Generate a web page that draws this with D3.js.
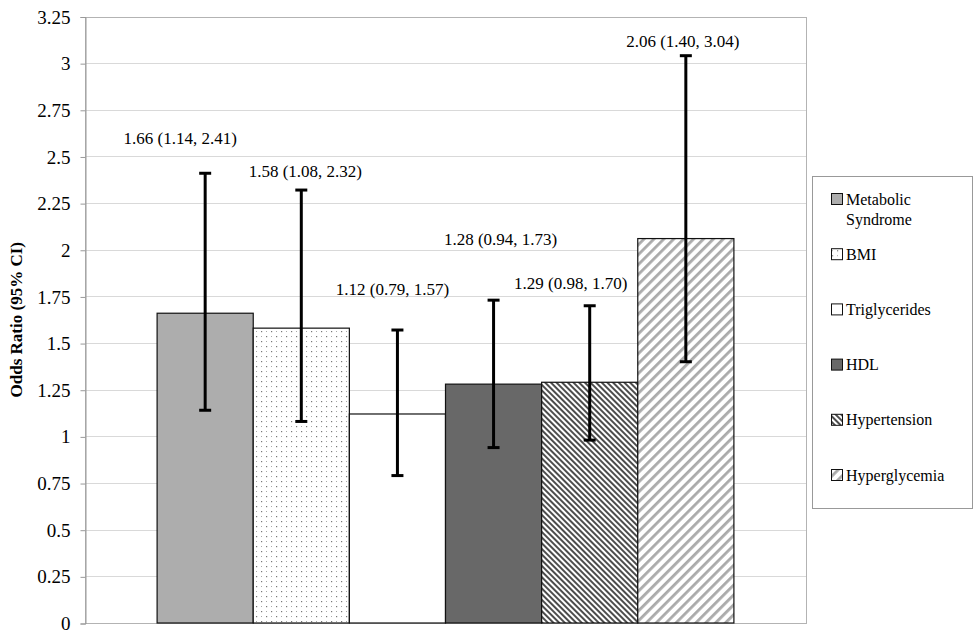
<!DOCTYPE html>
<html>
<head>
<meta charset="utf-8">
<script src="https://cdn.jsdelivr.net/npm/d3@7"></script>
<style>
  body { margin: 0; background: #fff; }
  svg text { font-family: "Liberation Serif", "Times New Roman", serif !important; fill: #000; }
</style>
</head>
<body>
<script>
// odds ratios with 95% CI, one bar per risk factor
var factors = ["Metabolic Syndrome", "BMI", "Triglycerides", "HDL", "Hypertension", "Hyperglycemia"];
var oddsRatio = [1.66, 1.58, 1.12, 1.28, 1.29, 2.06];
var ciLow = [1.14, 1.08, 0.79, 0.94, 0.98, 1.40];
var ciHigh = [2.41, 2.32, 1.57, 1.73, 1.70, 3.04];
// where the annotation sits (in odds ratio units), as in the original
var labelAt = [2.60, 2.42, 1.79, 2.06, 1.82, 3.12];
var yTicks = [0, 0.25, 0.5, 0.75, 1, 1.25, 1.5, 1.75, 2, 2.25, 2.5, 2.75, 3, 3.25];

var labelShift = [-25, 4, -5, 7, -19, -3];
var fills = ["#adadad", "url(#dots)", "#ffffff", "#686868", "url(#denseDiag)", "url(#wideDiag)"];

var width = 976, height = 637;
var plot = {left: 85, right: 806, top: 16.5, bottom: 623};

var svg = d3.select("body").append("svg")
    .attr("width", width)
    .attr("height", height)
    .attr("font-family", "Liberation Serif, serif");

// patterns
var defs = svg.append("defs");

var dots = defs.append("pattern").attr("id", "dots")
    .attr("patternUnits", "userSpaceOnUse").attr("width", 10).attr("height", 10);
dots.append("rect").attr("width", 10).attr("height", 10).attr("fill", "#fff");
dots.append("rect").attr("x", 1).attr("y", 1).attr("width", 1.2).attr("height", 1.2).attr("fill", "#777");
dots.append("rect").attr("x", 6).attr("y", 6).attr("width", 1.2).attr("height", 1.2).attr("fill", "#777");
dots.append("rect").attr("x", 1).attr("y", 6).attr("width", 1).attr("height", 1).attr("fill", "#aaa");
dots.append("rect").attr("x", 6).attr("y", 1).attr("width", 1).attr("height", 1).attr("fill", "#aaa");

// "\\\" dense dark hatching
var dense = defs.append("pattern").attr("id", "denseDiag")
    .attr("patternUnits", "userSpaceOnUse").attr("width", 4).attr("height", 4)
    .attr("patternTransform", "rotate(45)");
dense.append("rect").attr("width", 4).attr("height", 4).attr("fill", "#fff");
dense.append("rect").attr("width", 4).attr("height", 2).attr("fill", "#4d4d4d");

// "///" wide light hatching
var wide = defs.append("pattern").attr("id", "wideDiag")
    .attr("patternUnits", "userSpaceOnUse").attr("width", 7).attr("height", 7)
    .attr("patternTransform", "rotate(-45)");
wide.append("rect").attr("width", 7).attr("height", 7).attr("fill", "#fff");
wide.append("rect").attr("width", 7).attr("height", 2.8).attr("fill", "#aaaaaa");

var y = d3.scaleLinear().domain([0, 3.25]).range([plot.bottom, plot.top]);
var x = d3.scaleBand().domain(factors).range([plot.left, plot.right])
    .paddingInner(0).paddingOuter(0.75);

// gridlines
svg.append("g").selectAll("line")
    .data(yTicks.filter(function(d) { return d > 0 && d < 3.25; }))
    .join("line")
      .attr("x1", plot.left).attr("x2", plot.right)
      .attr("y1", function(d) { return Math.round(y(d)) + 0.5; })
      .attr("y2", function(d) { return Math.round(y(d)) + 0.5; })
      .attr("stroke", "#d9d9d9");

// plot frame
svg.append("rect")
    .attr("x", plot.left + 0.5).attr("y", Math.round(plot.top) + 0.5)
    .attr("width", plot.right - plot.left).attr("height", plot.bottom - Math.round(plot.top))
    .attr("fill", "none").attr("stroke", "#b3b3b3");

// y axis
var yAxis = d3.axisLeft(y).tickValues(yTicks).tickSize(5).tickPadding(10)
    .tickFormat(function(d) { return String(d); });
var ga = svg.append("g").attr("transform", "translate(" + (plot.left + 0.5) + ",0.5)").call(yAxis);
ga.attr("font-family", "Liberation Serif, serif").attr("font-size", 19);
ga.select(".domain").attr("stroke", "#999");
ga.selectAll(".tick line").attr("stroke", "#999");
ga.selectAll(".tick text").attr("fill", "#000");

svg.append("text")
    .attr("transform", "translate(22," + ((plot.top + plot.bottom) / 2) + ") rotate(-90)")
    .attr("text-anchor", "middle")
    .attr("font-size", 17)
    .attr("font-weight", "bold")
    .text("Odds Ratio (95% CI)");

// bars
svg.append("g").selectAll("rect")
    .data(factors)
    .join("rect")
      .attr("x", function(d) { return x(d); })
      .attr("y", function(d, i) { return y(oddsRatio[i]); })
      .attr("width", x.bandwidth())
      .attr("height", function(d, i) { return y(0) - y(oddsRatio[i]); })
      .attr("fill", function(d, i) { return fills[i]; })
      .attr("stroke", "#111")
      .attr("stroke-width", 1.2);

// error bars
var eb = svg.append("g").selectAll("g")
    .data(factors)
    .join("g")
      .attr("transform", function(d) { return "translate(" + (x(d) + x.bandwidth() / 2) + ",0)"; });
eb.append("line")
    .attr("y1", function(d, i) { return y(ciLow[i]); })
    .attr("y2", function(d, i) { return y(ciHigh[i]); })
    .attr("stroke", "#000").attr("stroke-width", 3);
eb.append("line")
    .attr("x1", -6).attr("x2", 6)
    .attr("y1", function(d, i) { return y(ciLow[i]); })
    .attr("y2", function(d, i) { return y(ciLow[i]); })
    .attr("stroke", "#000").attr("stroke-width", 3);
eb.append("line")
    .attr("x1", -6).attr("x2", 6)
    .attr("y1", function(d, i) { return y(ciHigh[i]); })
    .attr("y2", function(d, i) { return y(ciHigh[i]); })
    .attr("stroke", "#000").attr("stroke-width", 3);

// value labels
var fmt = d3.format(".2f");
svg.append("g").selectAll("text")
    .data(factors)
    .join("text")
      .attr("x", function(d, i) { return x(d) + x.bandwidth() / 2 + labelShift[i]; })
      .attr("y", function(d, i) { return y(labelAt[i]); })
      .attr("dy", "0.35em")
      .attr("text-anchor", "middle")
      .attr("font-size", 17)
      .text(function(d, i) {
        return fmt(oddsRatio[i]) + " (" + fmt(ciLow[i]) + ", " + fmt(ciHigh[i]) + ")";
      });

// legend
var legend = svg.append("g");
legend.append("rect")
    .attr("x", 812.5).attr("y", 176.5).attr("width", 160).attr("height", 332)
    .attr("fill", "#fff").attr("stroke", "#999");

var item = legend.selectAll("g.item")
    .data(factors)
    .join("g")
      .attr("class", "item")
      .attr("transform", function(d, i) { return "translate(831," + (199 + i * 55.2) + ")"; });
item.append("rect")
    .attr("x", 0.5).attr("y", -5.5).attr("width", 11).attr("height", 11)
    .attr("fill", function(d, i) { return fills[i]; })
    .attr("stroke", "#111");
item.each(function(d) {
  var t = d3.select(this).append("text")
      .attr("font-size", 16);
  d.split(" ").forEach(function(w, k) {
    t.append("tspan").attr("x", 15).attr("dy", k === 0 ? "0.35em" : "1.3em").text(w);
  });
});
</script>
</body>
</html>
